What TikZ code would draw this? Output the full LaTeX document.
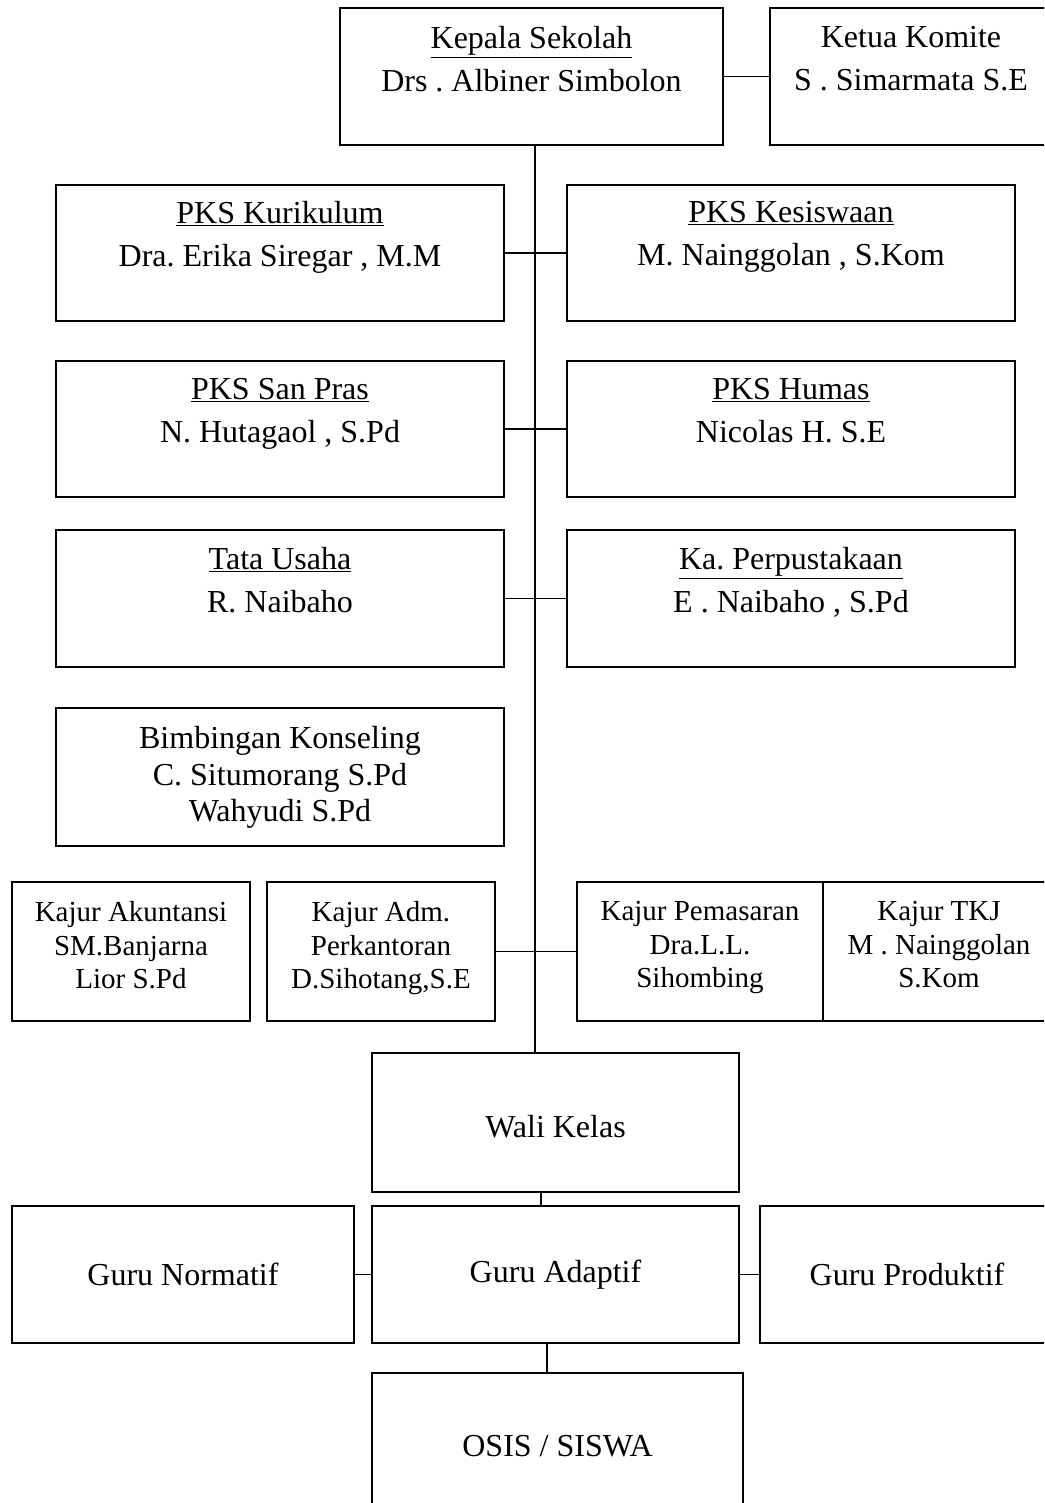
\documentclass[tikz,border=0pt]{standalone}
\usepackage{fontspec}
\setmainfont{Liberation Serif}
\frenchspacing

\begin{document}
\begin{tikzpicture}[x=1pt,y=1pt,
    box/.style={draw,line width=1.6pt,inner sep=0pt},
    txt/.style={align=center,inner sep=0pt,anchor=north,font=\fontsize{32}{43}\selectfont},
    small/.style={align=center,inner sep=0pt,anchor=north,font=\fontsize{29}{33.5}\selectfont},
    big/.style={font=\fontsize{32}{40}\selectfont},
    link/.style={line width=1.8pt}]

    \useasboundingbox (0,0) rectangle (1044,-1503);
    \clip (0,0) rectangle (1044,-1503);

    %Top
    \node[box,minimum width=383,minimum height=137] (kepala) at (531.5,-76.5) {};
    \node[box,minimum width=282,minimum height=137] (ketua) at (911,-76.5) {};
    \node[txt] (kepalaT) at ([yshift=-19]kepala.north) {\underline{Kepala Sekolah}\\Drs . Albiner Simbolon};
    \node[txt] (ketuaT) at ([yshift=-19]ketua.north) {Ketua Komite\\S . Simarmata S.E};

    %PKS
    \node[box,minimum width=448,minimum height=136] (kurikulum) at (280,-253) {};
    \node[box,minimum width=448,minimum height=136] (kesiswaan) at (791,-253) {};
    \node[box,minimum width=448,minimum height=136] (sanpras) at (280,-429) {};
    \node[box,minimum width=448,minimum height=136] (humas) at (791,-429) {};
    \node[box,minimum width=448,minimum height=137] (tatausaha) at (280,-598.5) {};
    \node[box,minimum width=448,minimum height=137] (perpus) at (791,-598.5) {};
    \node[box,minimum width=448,minimum height=138] (bk) at (280,-777) {};

    \node[txt] (kurikulumT) at ([yshift=-17]kurikulum.north) {\underline{PKS Kurikulum}\\Dra. Erika Siregar , M.M};
    \node[txt] (kesiswaanT) at ([yshift=-17]kesiswaan.north) {\underline{PKS Kesiswaan}\\M. Nainggolan , S.Kom};
    \node[txt] (sanprasT) at ([yshift=-18]sanpras.north) {\underline{PKS San Pras}\\N. Hutagaol , S.Pd};
    \node[txt] (humasT) at ([yshift=-18]humas.north) {\underline{PKS Humas}\\Nicolas H. S.E};
    \node[txt] (tatausahaT) at ([yshift=-18]tatausaha.north) {\underline{Tata Usaha}\\R. Naibaho};
    \node[txt] (perpusT) at ([yshift=-18]perpus.north) {\underline{Ka. Perpustakaan}\\E . Naibaho , S.Pd};
    \node[txt,font=\fontsize{32}{36.5}\selectfont] (bkT) at ([yshift=-19]bk.north) {Bimbingan Konseling\\C. Situmorang S.Pd\\Wahyudi S.Pd};

    %Kajur
    \node[box,minimum width=238,minimum height=139] (akuntansi) at (131,-951.5) {};
    \node[box,minimum width=228,minimum height=139] (adm) at (381,-951.5) {};
    \node[box,minimum width=246,minimum height=139] (pemasaran) at (700,-951.5) {};
    \node[box,minimum width=232,minimum height=139] (tkj) at (939,-951.5) {};

    \node[small] (akuntansiT) at ([yshift=-20]akuntansi.north) {Kajur Akuntansi\\SM.Banjarna\\Lior S.Pd};
    \node[small] (admT) at ([yshift=-20]adm.north) {Kajur Adm.\\Perkantoran\\D.Sihotang,S.E};
    \node[small] (pemasaranT) at ([yshift=-20]pemasaran.north) {Kajur Pemasaran\\Dra.L.L.\\Sihombing};
    \node[small] (tkjT) at ([yshift=-20]tkj.north) {Kajur TKJ\\M . Nainggolan\\S.Kom};

    %Guru
    \node[box,minimum width=367,minimum height=139] (wali) at (555.5,-1122.5) {};
    \node[big] (waliT) at ([yshift=-4]wali.center) {Wali Kelas};
    \node[box,big,minimum width=342,minimum height=137] (normatif) at (183,-1274.5) {Guru Normatif};
    \node[box,big,minimum width=367,minimum height=137] (adaptif) at (555.5,-1274.5) {Guru Adaptif};
    \node[box,big,minimum width=294,minimum height=137] (produktif) at (907,-1274.5) {Guru Produktif};
    \node[box,big,minimum width=371,minimum height=147] (osis) at (557.5,-1446.5) {OSIS / SISWA};

    %Lines
    \coordinate (spine) at (535,0);
    \coordinate (stem) at (547,0);
    \draw[link] (kepala.east) -- (ketua.west);
    \draw[link] (kepala.south -| spine) -- (wali.north -| spine);
    \draw[link] (kurikulum.east) -- (kesiswaan.west);
    \draw[link] (sanpras.east) -- (humas.west);
    \draw[link] (tatausaha.east) -- (perpus.west);
    \draw[link] (adm.east) -- (pemasaran.west);
    \draw[link] ([xshift=-14.5]wali.south) -- ([xshift=-14.5]adaptif.north);
    \draw[link] (normatif.east) -- (adaptif.west);
    \draw[link] (adaptif.east) -- (produktif.west);
    \draw[link] (adaptif.south -| stem) -- (osis.north -| stem);

\end{tikzpicture}
\end{document}
